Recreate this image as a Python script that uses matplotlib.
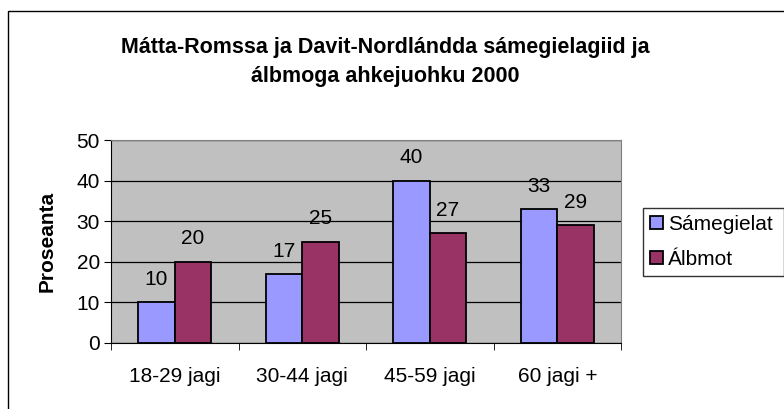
import matplotlib
matplotlib.use("Agg")
import matplotlib.pyplot as plt
import numpy as np
from matplotlib.patches import Rectangle

categories = ["18-29 jagi", "30-44 jagi", "45-59 jagi", "60 jagi +"]
samegielat = [10, 17, 40, 33]
albmot = [20, 25, 27, 29]
series_names = ["Sámegielat", "Álbmot"]
yticks = [0, 10, 20, 30, 40, 50]
title = "Mátta-Romssa ja Davit-Nordlándda sámegielagiid ja\nálbmoga ahkejuohku 2000"

plt.rcParams["font.family"] = ["Liberation Sans", "DejaVu Sans"]

W, H = 784, 409
fig = plt.figure(figsize=(W / 100, H / 100), dpi=100)

# outer chart frame (right/bottom edges are cut off in the original)
fig.patches.append(Rectangle((8 / W, -0.05), 1.1, 1 - 11 / H + 0.05,
                             transform=fig.transFigure, fill=False,
                             edgecolor="black", linewidth=1.0))

ax = fig.add_axes([111 / W, 66 / H, 510 / W, 203 / H])
ax.set_facecolor("#C0C0C0")

x = np.arange(len(categories))
w = 0.286
b1 = ax.bar(x - w / 2, samegielat, w, color="#9999FF", edgecolor="black",
            linewidth=1.3, label=series_names[0], zorder=3)
b2 = ax.bar(x + w / 2, albmot, w, color="#993366", edgecolor="black",
            linewidth=1.3, label=series_names[1], zorder=3)
for bars in (b1, b2):
    for r in bars:
        ax.annotate(f"{int(r.get_height())}",
                    (r.get_x() + r.get_width() / 2, r.get_height()),
                    xytext=(0, 16.5), textcoords="offset points",
                    ha="center", va="center", fontsize=15)

ax.set_xlim(-0.5, len(categories) - 0.5)
ax.set_ylim(0, 50)
ax.set_yticks(yticks)
ax.set_xticks(x)
ax.set_xticklabels(categories)
ax.set_xticks(np.arange(len(categories) + 1) - 0.5, minor=True)
ax.tick_params(axis="x", which="major", length=0, pad=17, labelsize=15)
ax.tick_params(axis="x", which="minor", length=5, direction="out", color="black")
ax.tick_params(axis="y", length=5, direction="out", labelsize=15, pad=3)
ax.yaxis.grid(True, color="black", linewidth=0.9, zorder=1)
ax.set_axisbelow(True)

for side in ("top", "right"):
    ax.spines[side].set_color("#808080")
for side in ("left", "bottom"):
    ax.spines[side].set_color("black")

ax.set_ylabel("Proseanta", fontsize=15, fontweight="bold", va="center")
ax.yaxis.set_label_coords(-0.125, 0.5)

fig.text(385 / W, 1 - 62 / H, title, ha="center", va="center",
         fontsize=15.5, fontweight="bold", linespacing=1.5)

leg = fig.legend(loc="lower left", bbox_to_anchor=(643 / W, 133 / H, 141 / W, 68 / H),
                 mode="expand", frameon=True, fancybox=False, fontsize=15,
                 handlelength=0.6, handleheight=0.6, handletextpad=0.25,
                 borderaxespad=0, labelspacing=0.75, borderpad=0.35)
leg.get_frame().set_edgecolor("black")
leg.get_frame().set_linewidth(1.0)

fig.savefig("out.png", dpi=100)
